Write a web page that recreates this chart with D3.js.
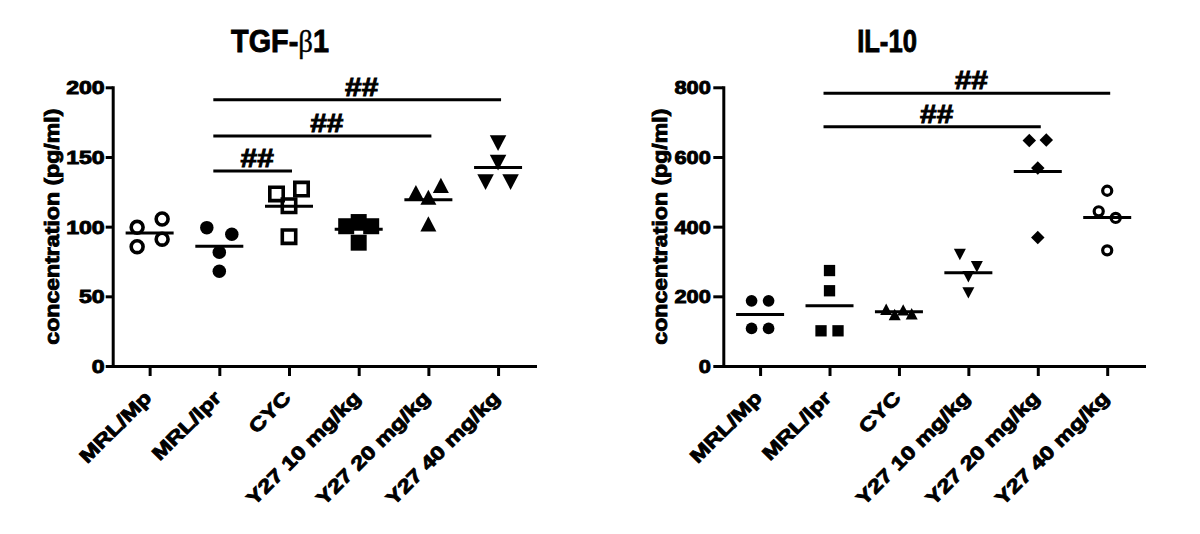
<!DOCTYPE html>
<html>
<head>
<meta charset="utf-8">
<script src="https://cdn.jsdelivr.net/npm/d3@7"></script>
<style>
  body { margin: 0; background: #fff; }
  svg text { font-family: "Liberation Sans", Arial, sans-serif; fill: #000; stroke: #000; stroke-width: 0.9px; }
</style>
</head>
<body>
<svg width="1200" height="534"></svg>
<script>
// groups on the x axis (same in both panels)
var groups = ["MRL/Mp", "MRL/lpr", "CYC", "Y27 10 mg/kg", "Y27 20 mg/kg", "Y27 40 mg/kg"];

// TGF-b1, pg/ml, four mice per group
var tgfValues = [
  [99.5, 105.5, 85.6, 91],
  [99.3, 94.6, 81.6, 68],
  [123.5, 127, 115, 92.8],
  [100.3, 103.3, 100.3, 88.5],
  [124.5, 121.1, 129.6, 102],
  [160, 146, 132, 132]
];
var tgfTicks = [0, 50, 100, 150, 200];
var tgfSigPairs = [["MRL/lpr", "CYC"], ["MRL/lpr", "Y27 20 mg/kg"], ["MRL/lpr", "Y27 40 mg/kg"]];
var tgfSigLevels = [140, 165, 191];
var tgfSymbols = ["circleOpen", "circle", "squareOpen", "square", "triangle", "triangleDown"];

// IL-10, pg/ml
var il10Values = [
  [187, 187, 108, 108],
  [274, 216, 101, 101],
  [163, 148, 161, 150],
  [320, 285, 256, 210],
  [647, 649, 568, 369],
  [503, 444, 425, 332]
];
var il10Ticks = [0, 200, 400, 600, 800];
var il10SigPairs = [["MRL/lpr", "Y27 20 mg/kg"], ["MRL/lpr", "Y27 40 mg/kg"]];
var il10SigLevels = [687, 783];
var il10Symbols = ["circle", "square", "triangle", "triangleDown", "diamond", "circleOpen"];

var sigLabel = "##";
var yTitle = "concentration (pg/ml)";

var svg = d3.select("svg");

// custom symbol shapes (bbox centred)
var triUp = { draw: function(c, size) {
  var w = Math.sqrt(size), h = w * 0.95;
  c.moveTo(0, -h / 2); c.lineTo(w / 2, h / 2); c.lineTo(-w / 2, h / 2); c.closePath();
}};
var triDown = { draw: function(c, size) {
  var w = Math.sqrt(size), h = w * 0.95;
  c.moveTo(0, h / 2); c.lineTo(w / 2, -h / 2); c.lineTo(-w / 2, -h / 2); c.closePath();
}};
var rhomb = { draw: function(c, size) {
  var r = Math.sqrt(size) / 2;
  c.moveTo(0, -r); c.lineTo(r, 0); c.lineTo(0, r); c.lineTo(-r, 0); c.closePath();
}};
var squareC = { draw: function(c, size) {
  var r = Math.sqrt(size) / 2;
  c.rect(-r, -r, 2 * r, 2 * r);
}};
var circleC = { draw: function(c, size) {
  var r = Math.sqrt(size) / 2;
  c.moveTo(r, 0); c.arc(0, 0, r, 0, 2 * Math.PI);
}};

function symbolPath(type, s, sw) {
  var open = /Open$/.test(type);
  var base = type.replace("Open", "");
  var shape = {circle: circleC, square: squareC, triangle: triUp, triangleDown: triDown, diamond: rhomb}[base];
  var side = open ? s - sw : s;
  return d3.symbol().type(shape).size(side * side)();
}

// spread replicates that would overlap into side by side rows
function rowOffsets(vals, y, step, gap) {
  var order = d3.range(vals.length).sort(function(a, b) { return y(vals[a]) - y(vals[b]) || a - b; });
  var rows = [], cur = null;
  order.forEach(function(i) {
    var py = y(vals[i]);
    if (cur && Math.abs(py - cur.y0) < gap) cur.members.push(i);
    else { cur = {y0: py, members: [i]}; rows.push(cur); }
  });
  var off = [];
  rows.forEach(function(r) {
    r.members.sort(function(a, b) { return a - b; });
    var k = r.members.length;
    r.members.forEach(function(idx, j) {
      off[idx] = k === 2 ? (2 * j - 1) * step : (j - (k - 1) / 2) * step;
    });
  });
  return off;
}

function drawPanel(cfg, values, ticks, sigPairs, sigLevels, symbols) {
  var g = svg.append("g");

  var x = d3.scalePoint().domain(groups).range([cfg.left, cfg.right]).padding(0.53);
  var y = d3.scaleLinear().domain([0, ticks[ticks.length - 1]]).range([cfg.bottom, cfg.top]);

  // title
  var t = g.append("text")
      .attr("text-anchor", "middle")
      .attr("font-size", 32).attr("font-weight", "bold")
      .attr("transform", "translate(" + cfg.titleX + ",52) scale(" + cfg.titleScale + ",1)");
  cfg.title.forEach(function(part) {
    var ts = t.append("tspan").text(part.text);
    if (part.greek) ts.style("font-family", "'Liberation Serif', 'DejaVu Serif', serif")
      .attr("font-weight", "normal").style("stroke-width", "0.4px");
  });

  // y axis
  var yAxis = g.append("g")
      .attr("transform", "translate(" + cfg.left + ",0)")
      .call(d3.axisLeft(y).tickValues(ticks).tickSize(cfg.yTick).tickSizeOuter(0));
  // x axis
  var xAxis = g.append("g")
      .attr("transform", "translate(0," + cfg.bottom + ")")
      .call(d3.axisBottom(x).tickSize(10).tickSizeOuter(0));

  [yAxis, xAxis].forEach(function(a) {
    a.attr("font-size", null).attr("font-family", null);
    a.select(".domain").attr("stroke-width", 3).attr("stroke-linecap", "square");
    a.selectAll(".tick line").attr("stroke-width", 3);
  });

  yAxis.selectAll(".tick text")
      .attr("font-size", 18.5).attr("font-weight", "bold")
      .attr("x", -cfg.yGap / cfg.textScale).attr("dy", "0.36em")
      .attr("transform", "scale(" + cfg.textScale + ",1)");

  xAxis.selectAll(".tick text")
      .attr("font-size", 19).attr("font-weight", "bold")
      .attr("x", 0).attr("y", 0).attr("dy", 0)
      .attr("text-anchor", "end")
      .attr("transform", "translate(2.5,33) rotate(-45) scale(1.25,1)");

  // y axis title
  g.append("text")
      .attr("text-anchor", "middle")
      .attr("font-size", 21).attr("font-weight", "bold")
      .attr("transform", "translate(" + (cfg.left - cfg.yTitleOffset) + "," + ((cfg.top + cfg.bottom) / 2) + ") rotate(-90) scale(1.1,1)")
      .text(yTitle);

  // replicate points
  values.forEach(function(vals, gi) {
    var off = rowOffsets(vals, y, cfg.step, cfg.rowGap);
    var type = symbols[gi];
    var open = /Open$/.test(type);
    var s = cfg.sizes[type];
    g.append("g").selectAll("path")
      .data(vals)
      .enter().append("path")
        .attr("d", symbolPath(type, s, cfg.openStroke))
        .attr("transform", function(d, i) { return "translate(" + (x(groups[gi]) + off[i]) + "," + y(d) + ")"; })
        .attr("fill", open ? "none" : "#000")
        .attr("stroke", open ? "#000" : "none")
        .attr("stroke-width", open ? cfg.openStroke : 0);

    // mean line
    var m = d3.mean(vals);
    g.append("line")
      .attr("x1", x(groups[gi]) - 24).attr("x2", x(groups[gi]) + 24)
      .attr("y1", y(m)).attr("y2", y(m))
      .attr("stroke", "#000").attr("stroke-width", 3);
  });

  // significance bars
  sigPairs.forEach(function(p, i) {
    var x1 = x(p[0]), x2 = x(p[1]), yy = y(sigLevels[i]);
    g.append("line")
      .attr("x1", x1 - 6).attr("x2", x2 + 3)
      .attr("y1", yy).attr("y2", yy)
      .attr("stroke", "#000").attr("stroke-width", 3);
    g.append("text")
      .attr("text-anchor", "middle")
      .attr("font-size", 26).attr("font-weight", "bold")
      .attr("transform", "translate(" + ((x1 + x2) / 2 + 3) + "," + (yy - 4) + ") scale(1.15,1)")
      .text(sigLabel);
  });
}

drawPanel({
  left: 112.7, right: 535, top: 87.3, bottom: 366,
  title: [{text: "TGF-"}, {text: "\u03b2", greek: true}, {text: "1"}],
  titleX: 280, titleScale: 0.9,
  yTick: 7, yGap: 8, textScale: 1.25, yTitleOffset: 54,
  step: 12.5, rowGap: 13, openStroke: 3.6,
  sizes: {circleOpen: 15.5, circle: 13.5, squareOpen: 17, square: 16, triangle: 16, triangleDown: 16.5}
}, tgfValues, tgfTicks, tgfSigPairs, tgfSigLevels, tgfSymbols);

drawPanel({
  left: 723.3, right: 1144, top: 87.3, bottom: 366,
  title: [{text: "IL-10"}],
  titleX: 887, titleScale: 0.8,
  yTick: 10, yGap: 12.5, textScale: 1.18, yTitleOffset: 56,
  step: 8.5, rowGap: 13, openStroke: 3.2,
  sizes: {circle: 11.7, square: 11.3, triangle: 12, triangleDown: 12, diamond: 13.5, circleOpen: 12.3}
}, il10Values, il10Ticks, il10SigPairs, il10SigLevels, il10Symbols);
</script>
</body>
</html>
